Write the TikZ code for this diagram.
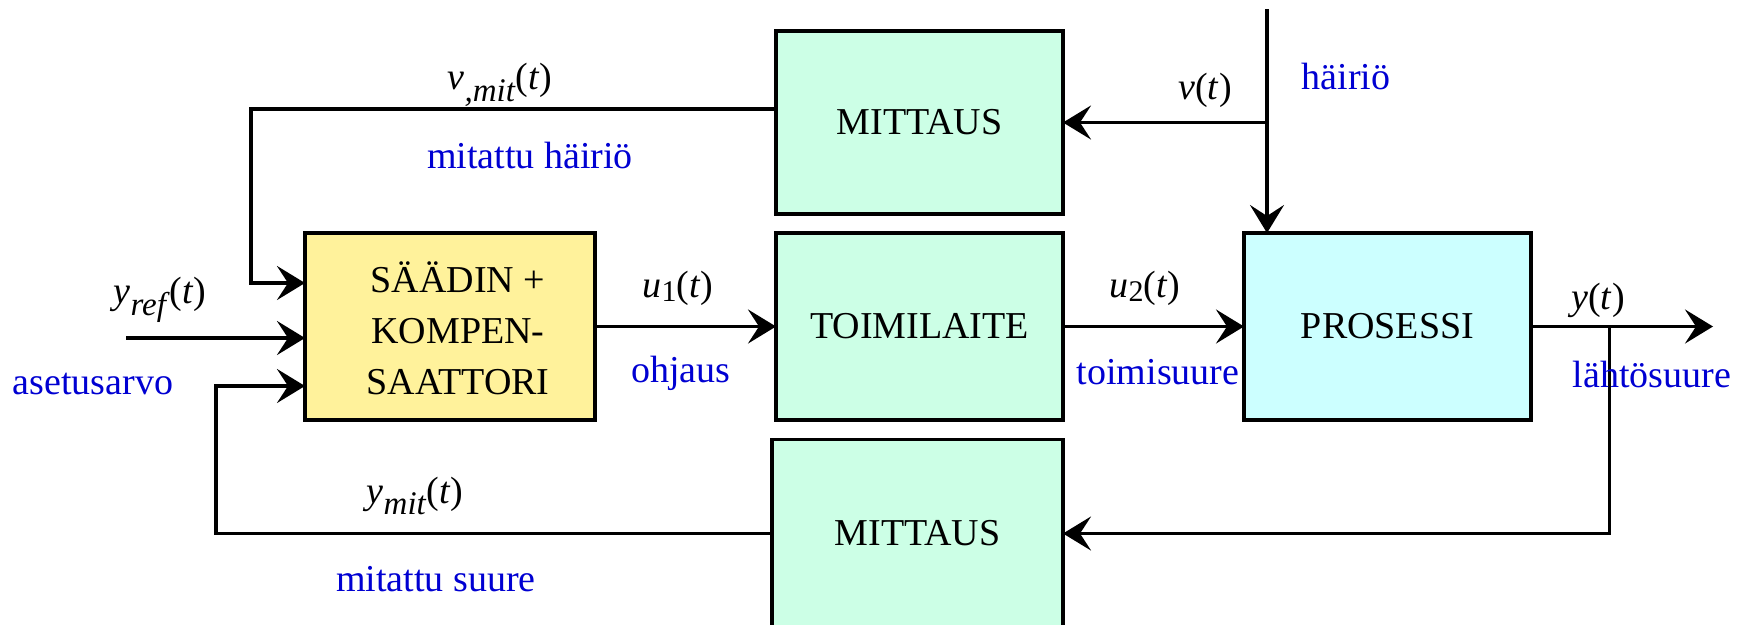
\documentclass[tikz,border=0pt]{standalone}
\usepackage{fontspec}
\setmainfont{Liberation Serif}
\usetikzlibrary{arrows.meta}
\definecolor{mint}{RGB}{204,255,230}
\definecolor{ctrlyel}{RGB}{255,242,155}
\definecolor{proccyan}{RGB}{204,255,255}
\definecolor{lblblue}{RGB}{0,0,210}
\newcommand\sgl[2]{\textit{#1}\raisebox{-0.3em}{\fontsize{33}{33}\selectfont\textit{#2}}(\textit{t})}
\newcommand\sgn[2]{\textit{#1}\raisebox{-0.12em}{\fontsize{30}{30}\selectfont #2}(\textit{t})}
\tikzset{
  blockbox/.style={draw=black, line width=3.5pt, inner sep=0pt, outer sep=0pt,
    font=\fontsize{38}{52}\selectfont, align=center},
  arr/.style={line width=3.4pt, -{Stealth[length=28pt,width=34pt,inset=11pt]}},
  lbl/.style={inner sep=0pt, font=\fontsize{38}{44}\selectfont},
  bluelbl/.style={inner sep=0pt, text=lblblue, font=\fontsize{38}{44}\selectfont},
}
\begin{document}
\begin{tikzpicture}[x=1pt,y=-1pt]
\path[use as bounding box] (0,0) rectangle (1752,624);
\clip (0,0) rectangle (1752,624);
\fill[white] (0,0) rectangle (1752,624);

% blocks
\node[blockbox, fill=mint, minimum width=287pt, minimum height=183pt] (mit1) at (919.5,122.5) {MITTAUS};
\node[blockbox, fill=ctrlyel, minimum width=290pt, minimum height=187pt] (ctrl) at (450,326.5) {};
\node[inner sep=0pt, font=\fontsize{38}{44}\selectfont] (c1) at (458,277) {SÄÄDIN +};
\node[inner sep=0pt, font=\fontsize{38}{44}\selectfont] (c2) at (458,331) {KOMPEN-};
\node[inner sep=0pt, font=\fontsize{38}{44}\selectfont] (c3) at (458,382) {SAATTORI};
\node[blockbox, fill=mint, minimum width=287pt, minimum height=187pt] (act) at (919.5,326.5) {TOIMILAITE};
\node[blockbox, fill=proccyan, minimum width=287pt, minimum height=187pt] (proc) at (1387.5,326.5) {PROSESSI};
\node[blockbox, fill=mint, minimum width=291pt, minimum height=188pt] (mit2) at (917.5,533.5) {MITTAUS};

% coordinates
\coordinate (dtop) at (1267,9);
\coordinate (dj) at (1267,122.5);
\coordinate (yin) at (126,338);
\coordinate (yout) at (1713,326.5);
\coordinate (yb) at (1609.5,326.5);

% connectors
\draw[arr] (dtop) -- (dtop |- proc.north);
\draw[arr] (dj) -- (mit1.east);
\draw[arr] ([yshift=13.5pt]mit1.west) -| ([xshift=-54pt,yshift=43.5pt]ctrl.west) -- ([yshift=43.5pt]ctrl.west);
\draw[arr] (yin) -- (yin -| ctrl.west);
\draw[arr] (mit2.west) -| ([xshift=-89pt,yshift=-59.5pt]ctrl.west) -- ([yshift=-59.5pt]ctrl.west);
\draw[arr] (ctrl.east) -- (act.west);
\draw[arr] (act.east) -- (proc.west);
\draw[arr] (proc.east) -- (yout);
\draw[arr] (yb) |- (mit2.east);

% signal labels
\node[lbl] (lvmit) at (500,85) {\sgl{v}{,mit}};
\node[bluelbl] (lmh) at (530,155) {mitattu häiriö};
\node[lbl] (lv) at (1205,90) {\textit{v}(\textit{t})};
\node[bluelbl] (lh) at (1346,77) {häiriö};
\node[lbl] (lyref) at (160,300) {\sgl{y}{ref}};
\node[bluelbl] (las) at (93,384) {asetusarvo};
\node[lbl] (lu1) at (678,288) {\sgn{u}{1}};
\node[bluelbl] (loh) at (681,373) {ohjaus};
\node[lbl] (lu2) at (1145,288) {\sgn{u}{2}};
\node[bluelbl] (lto) at (1158,372) {toimisuure};
\node[lbl] (ly) at (1598,300) {\textit{y}(\textit{t})};
\node[bluelbl] (lla) at (1652,374) {lähtösuure};
\node[lbl] (lymit) at (415,496) {\sgl{y}{mit}};
\node[bluelbl] (lms) at (436,579) {mitattu suure};
\end{tikzpicture}
\end{document}
